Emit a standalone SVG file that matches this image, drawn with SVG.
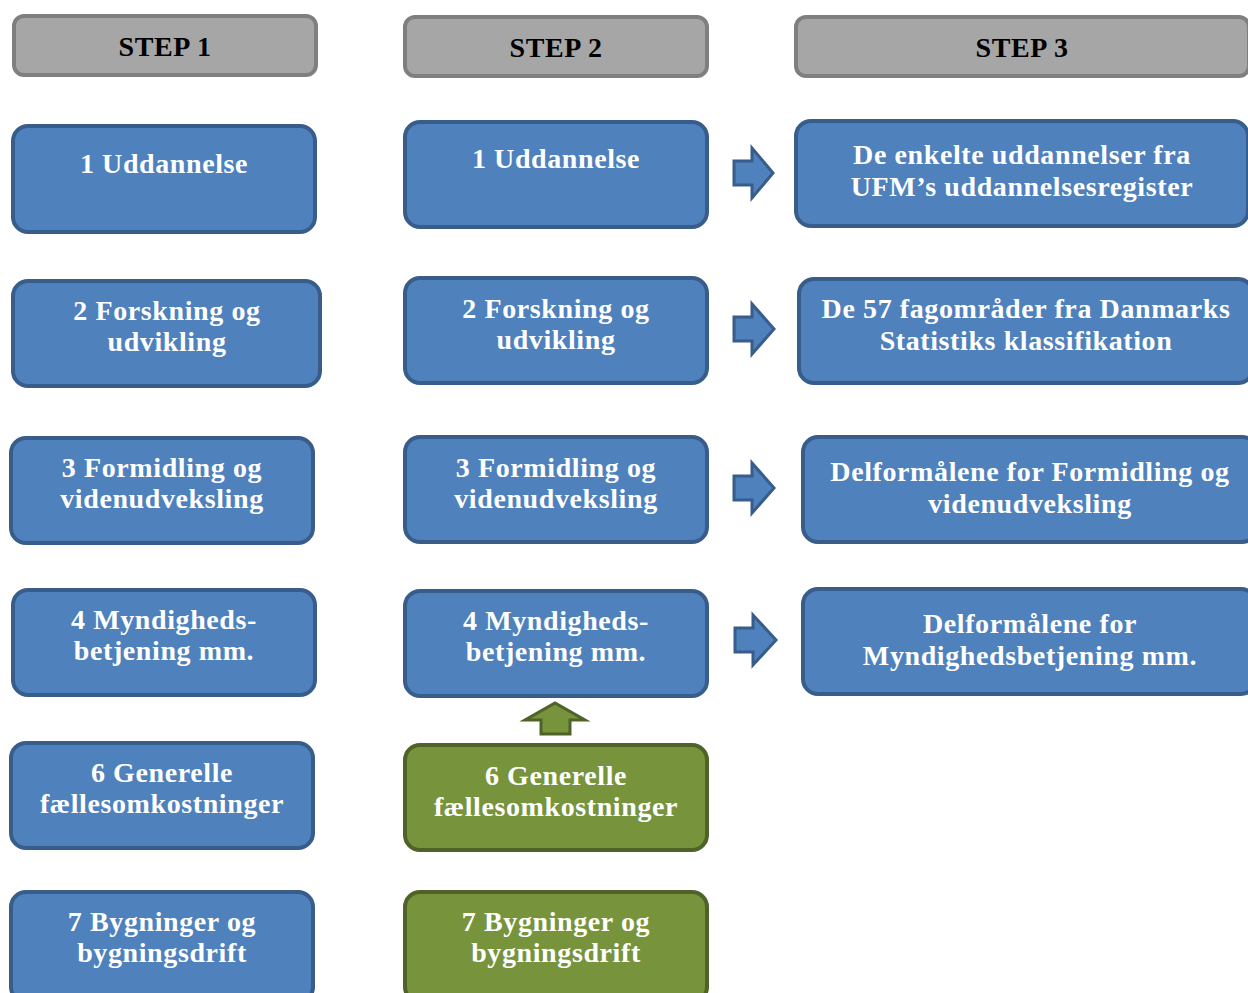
<svg xmlns="http://www.w3.org/2000/svg" width="1248" height="993" viewBox="0 0 1248 993">
<style>
.hd{fill:#a6a6a6;stroke:#7f7f7f;stroke-width:4}
.bl{fill:#4f81bd;stroke:#385d8a;stroke-width:4}
.gr{fill:#77933c;stroke:#4f6228;stroke-width:4}
.ba{fill:#4f81bd;stroke:#385d8a;stroke-width:3}
.ga{fill:#77933c;stroke:#4f6228;stroke-width:3}
text{font-family:"Liberation Serif","Times New Roman",serif;font-weight:bold;font-size:28px;letter-spacing:0.6px;text-anchor:middle}
.ht{fill:#000}
.wt{fill:#fff}
</style>
<rect width="1248" height="993" fill="#fff"/>
<g id="step1"><rect class="hd" x="14" y="16" width="302" height="59" rx="10"/><text class="ht" x="165" y="56">STEP 1</text></g>
<g id="step2"><rect class="hd" x="405" y="17" width="302" height="59" rx="10"/><text class="ht" x="556" y="57">STEP 2</text></g>
<g id="step3"><rect class="hd" x="796" y="17" width="453" height="59" rx="10"/><text class="ht" x="1022" y="57">STEP 3</text></g>

<g id="c1b1"><rect class="bl" x="13" y="126" width="302" height="106" rx="15"/><text class="wt" x="164" y="173">1 Uddannelse</text></g>
<g id="c1b2"><rect class="bl" x="13" y="281" width="307" height="105" rx="15"/><text class="wt" x="167" y="320">2 Forskning og</text><text class="wt" x="167" y="351">udvikling</text></g>
<g id="c1b3"><rect class="bl" x="11" y="438" width="302" height="105" rx="15"/><text class="wt" x="162" y="477">3 Formidling og</text><text class="wt" x="162" y="508">videnudveksling</text></g>
<g id="c1b4"><rect class="bl" x="13" y="590" width="302" height="105" rx="15"/><text class="wt" x="164" y="629">4 Myndigheds-</text><text class="wt" x="164" y="660">betjening mm.</text></g>
<g id="c1b6"><rect class="bl" x="11" y="743" width="302" height="105" rx="15"/><text class="wt" x="162" y="782">6 Generelle</text><text class="wt" x="162" y="813">fællesomkostninger</text></g>
<g id="c1b7"><rect class="bl" x="11" y="892" width="302" height="110" rx="15"/><text class="wt" x="162" y="931">7 Bygninger og</text><text class="wt" x="162" y="962">bygningsdrift</text></g>

<g id="c2b1"><rect class="bl" x="405" y="122" width="302" height="105" rx="15"/><text class="wt" x="556" y="168">1 Uddannelse</text></g>
<g id="c2b2"><rect class="bl" x="405" y="278" width="302" height="105" rx="15"/><text class="wt" x="556" y="318">2 Forskning og</text><text class="wt" x="556" y="349">udvikling</text></g>
<g id="c2b3"><rect class="bl" x="405" y="437" width="302" height="105" rx="15"/><text class="wt" x="556" y="477">3 Formidling og</text><text class="wt" x="556" y="508">videnudveksling</text></g>
<g id="c2b4"><rect class="bl" x="405" y="591" width="302" height="105" rx="15"/><text class="wt" x="556" y="630">4 Myndigheds-</text><text class="wt" x="556" y="661">betjening mm.</text></g>
<g id="c2b6"><rect class="gr" x="405" y="745" width="302" height="105" rx="15"/><text class="wt" x="556" y="785">6 Generelle</text><text class="wt" x="556" y="816">fællesomkostninger</text></g>
<g id="c2b7"><rect class="gr" x="405" y="892" width="302" height="110" rx="15"/><text class="wt" x="556" y="931">7 Bygninger og</text><text class="wt" x="556" y="962">bygningsdrift</text></g>

<g id="c3b1"><rect class="bl" x="796" y="121" width="452" height="105" rx="15"/><text class="wt" x="1022" y="164">De enkelte uddannelser fra</text><text class="wt" x="1022" y="196">UFM’s uddannelsesregister</text></g>
<g id="c3b2"><rect class="bl" x="799" y="279" width="454" height="104" rx="15"/><text class="wt" x="1026" y="318">De 57 fagområder fra Danmarks</text><text class="wt" x="1026" y="350">Statistiks klassifikation</text></g>
<g id="c3b3"><rect class="bl" x="803" y="437" width="454" height="105" rx="15"/><text class="wt" x="1030" y="481">Delformålene for Formidling og</text><text class="wt" x="1030" y="513">videnudveksling</text></g>
<g id="c3b4"><rect class="bl" x="803" y="589" width="453" height="105" rx="15"/><text class="wt" x="1030" y="633">Delformålene for</text><text class="wt" x="1030" y="665">Myndighedsbetjening mm.</text></g>

<g id="connectors">
<polygon class="ba" points="734,161 752,161 752,148 773,173 752,198 752,185 734,185"/>
<polygon class="ba" points="734,317 752,317 752,304 774,329 752,354 752,341 734,341"/>
<polygon class="ba" points="734,476 752,476 752,463 774,488 752,513 752,500 734,500"/>
<polygon class="ba" points="735,628 753,628 753,615 776,640 753,665 753,652 735,652"/>
<polygon class="ga" points="541,734 541,720 525,720 555,703 585,720 570,720 570,734"/>
</g>
</svg>
